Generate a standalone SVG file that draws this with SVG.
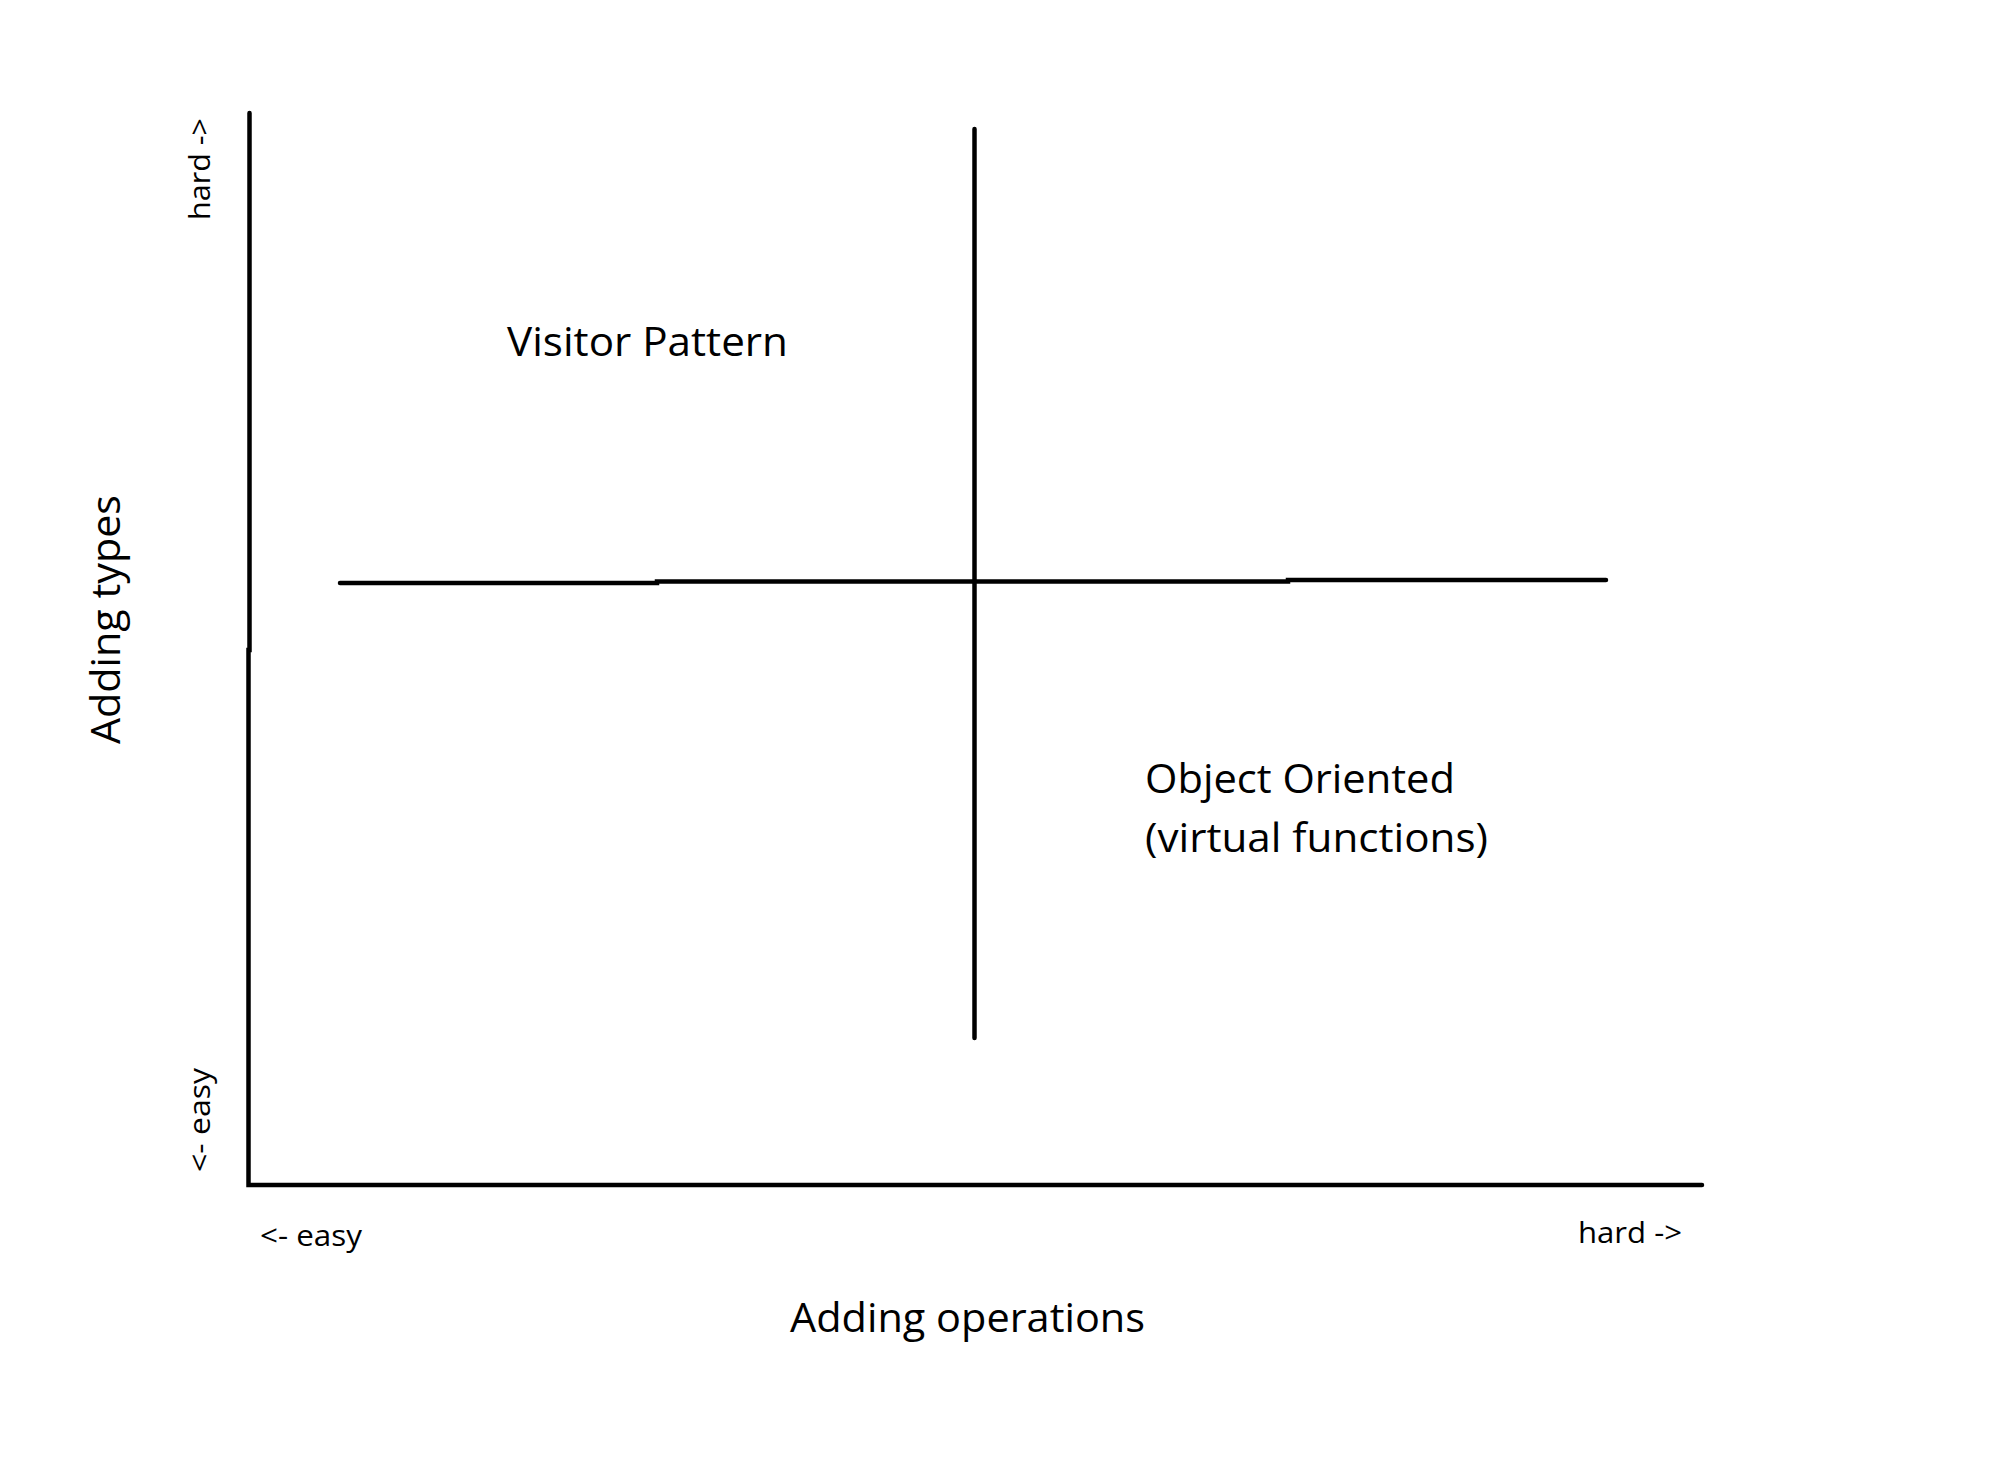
<svg xmlns="http://www.w3.org/2000/svg" width="2000" height="1467" viewBox="0 0 2000 1467">
<style>
.ln{stroke:#000;stroke-width:4.5;fill:none;stroke-linecap:round}
.big{font-family:"Open Sans","Liberation Sans",sans-serif;font-size:40px;fill:#000}
.sm{font-family:"Open Sans","Liberation Sans",sans-serif;font-size:30px;fill:#000}
</style>
<rect width="2000" height="1467" fill="#fff"/>
<g id="axes">
<polyline class="ln" points="249.5,113 249.5,650 248.5,650 248.5,1185 1702,1185" stroke-linecap="butt"/>
</g>
<g id="connectors">
<line class="ln" x1="974.5" y1="129" x2="974.5" y2="1038" stroke-width="4"/>
<polyline class="ln" points="340,583 657,583 657,581.5 1288,581.5 1288,580 1606,580"/>
</g>
<g id="visitor"><text class="big" x="507" y="356" textLength="281" lengthAdjust="spacingAndGlyphs">Visitor Pattern</text></g>
<g id="oo">
<text class="big" x="1145" y="793" textLength="310" lengthAdjust="spacingAndGlyphs">Object Oriented</text>
<text class="big" x="1145" y="852" textLength="343" lengthAdjust="spacingAndGlyphs">(virtual functions)</text>
</g>
<g id="xlabel"><text class="big" x="790" y="1332" textLength="355" lengthAdjust="spacingAndGlyphs">Adding operations</text></g>
<g id="ylabel"><text class="big" transform="translate(120,744) rotate(-90)" x="0" y="0" textLength="249" lengthAdjust="spacingAndGlyphs">Adding types</text></g>
<g id="x-easy"><text class="sm" x="260" y="1246" textLength="102" lengthAdjust="spacingAndGlyphs">&lt;- easy</text></g>
<g id="x-hard"><text class="sm" x="1578" y="1243" textLength="104" lengthAdjust="spacingAndGlyphs">hard -&gt;</text></g>
<g id="y-easy"><text class="sm" transform="translate(210,1172) rotate(-90)" x="0" y="0" textLength="104" lengthAdjust="spacingAndGlyphs">&lt;- easy</text></g>
<g id="y-hard"><text class="sm" transform="translate(210,220) rotate(-90)" x="0" y="0" textLength="102" lengthAdjust="spacingAndGlyphs">hard -&gt;</text></g>
</svg>
